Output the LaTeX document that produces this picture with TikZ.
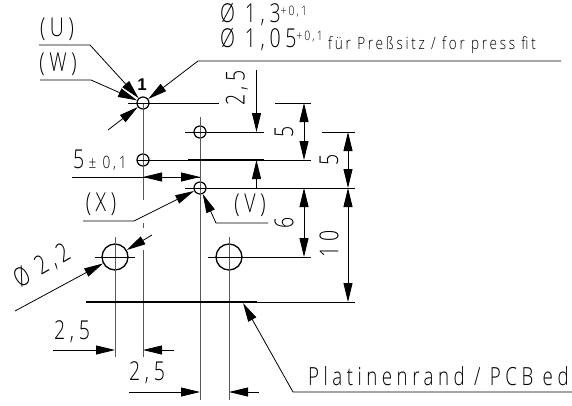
\documentclass[tikz,border=0pt]{standalone}
\usepackage{fontspec}
\usetikzlibrary{calc,positioning,arrows.meta}
\newfontfamily\isofont[FakeStretch=0.75,LetterSpace=18]{Open Sans Light}
\newfontfamily\isolow[FakeStretch=0.8,LetterSpace=16]{Open Sans Light}
\newfontfamily\onefont{Liberation Sans}
\newcommand{\isobig}{\isofont\fontsize{26}{26}\selectfont}
\newcommand{\isoedge}{\isofont\fontsize{25}{25}\selectfont}
\newcommand{\isomid}{\isolow\fontsize{17}{17}\selectfont}
\newcommand{\isosmall}{\isolow\fontsize{13}{13}\selectfont}
\tikzset{
  hole/.style={circle,draw,line width=1.2pt,inner sep=0pt,minimum size=12pt},
  bighole/.style={circle,draw,line width=1.3pt,inner sep=0pt,minimum size=26pt},
  thin line/.style={line width=0.8pt},
  axis/.style={line width=1pt,black!65},
  thick line/.style={line width=1.7pt},
  tip/.style={line width=0.8pt,-{Triangle[length=19pt,width=9pt]}},
  tips/.style={line width=0.8pt,{Triangle[length=19pt,width=9pt]}-{Triangle[length=19pt,width=9pt]}},
  txt/.style={inner sep=0pt,font=\isobig}
}
\begin{document}
\begin{tikzpicture}[x=1pt,y=-1pt]
    \useasboundingbox (0,0) rectangle (572,405);

    % holes

    \node[hole] (h1) at (143,103) {};
    \node[hole] (h2) at (200,132) {};
    \node[hole] (h3) at (143,160) {};
    \node[hole] (h4) at (200,188) {};
    \node[bighole] (h5) at (115,257) {};
    \node[bighole] (h6) at (229,257) {};

    % free ends

    \coordinate (a1) at (143,200);
    \coordinate (a2) at (143,250);
    \coordinate (a3) at (143,357);
    \coordinate (a4) at (143,223);
    \coordinate (a5) at (143,228);
    \coordinate (b1) at (200,117);
    \coordinate (b2) at (200,400);
    \coordinate (c1) at (229,237);
    \coordinate (c2) at (229,400);
    \coordinate (d1) at (115,237);
    \coordinate (d2) at (115,357);

    \coordinate (e1) at (128,103);
    \coordinate (e2) at (219,103);
    \coordinate (e3) at (275,103);
    \coordinate (e4) at (311,103);
    \coordinate (f1) at (185,132);
    \coordinate (f2) at (264,132);
    \coordinate (g1) at (137,160);
    \coordinate (g2) at (311,160);
    \coordinate (g3) at (188,160);
    \coordinate (g4) at (264,160);
    \coordinate (k1) at (185,188);
    \coordinate (k2) at (355,188);
    \coordinate (m1) at (95,257);
    \coordinate (m2) at (135,257);
    \coordinate (m3) at (208,257);
    \coordinate (m4) at (311,257);
    \coordinate (n1) at (86,302);
    \coordinate (n2) at (257,302);
    \coordinate (n3) at (355,302);
    \coordinate (q1) at (322,132);
    \coordinate (q2) at (355,132);

    \coordinate (u1) at (39,45);
    \coordinate (u2) at (90,45);
    \coordinate (w1) at (40,80);
    \coordinate (w2) at (91,80);
    \coordinate (z1) at (108,130);
    \coordinate (p1) at (561,61);
    \coordinate (p2) at (198,61);
    \coordinate (x1) at (83,221);
    \coordinate (x2) at (134,221);
    \coordinate (v1) at (268,223);
    \coordinate (v2) at (216,223);
    \coordinate (r1) at (15,311);
    \coordinate (r2) at (152,235);
    \coordinate (s1) at (572,392);
    \coordinate (s2) at (293,392);
    \coordinate (s3) at (243,303);

    \coordinate (t1) at (256.5,70);
    \coordinate (t2) at (256.5,132);
    \coordinate (t3) at (256.5,188);
    \coordinate (t4) at (256.5,160);
    \coordinate (y1) at (304,103);
    \coordinate (y2) at (304,160);
    \coordinate (y3) at (304,188);
    \coordinate (y4) at (304,257);
    \coordinate (o1) at (348,132);
    \coordinate (o2) at (348,188);
    \coordinate (o3) at (348,302);

    \coordinate (l1) at (72,177);
    \coordinate (l2) at (143,177);
    \coordinate (l3) at (200,177);
    \coordinate (i1) at (53,350);
    \coordinate (i2) at (115,350);
    \coordinate (i3) at (143,350);
    \coordinate (i4) at (174,350);
    \coordinate (j1) at (129,392);
    \coordinate (j2) at (200,392);
    \coordinate (j3) at (229,392);
    \coordinate (j4) at (259,392);

    % lines

    \draw[axis] (h1.center) to (a1);
    \draw[axis] (a4) to (a5);
    \draw[axis] (a2) to (a3);
    \draw[axis] (b1) to (b2);
    \draw[axis] (c1) to (c2);
    \draw[axis] (d1) to (d2);

    \draw[thin line] (e1) to (e2);
    \draw[thin line] (e3) to (e4);
    \draw[thin line] (f1) to (f2);
    \draw[thin line] (g1) to (g2);
    \draw[thick line] (g3) to (g4);
    \draw[thin line] (k1) to (k2);
    \draw[thin line] (m1) to (m2);
    \draw[thin line] (m3) to (m4);
    \draw[thick line] (n1) to (n2);
    \draw[thin line] (n2) to (n3);
    \draw[thin line] (q1) to (q2);

    % leaders

    \draw[tip] (u1) -- (u2) -- (h1);
    \draw[tip] (w1) -- (w2) -- (h1);
    \draw[tip] (z1) to (h1);
    \draw[tip] (p1) -- (p2) -- (h1);
    \draw[tip] (x1) -- (x2) -- (h4);
    \draw[tip] (v1) -- (v2) -- (h4);
    \draw[tip] (r1) to (h5);
    \draw[tip] (r2) to (h5);
    \draw[tip] (s1) -- (s2) -- (s3);

    % dimensions

    \draw[tip] (t1) to (t2);
    \draw[tip] (t3) to (t4);
    \draw[tips] (y1) to (y2);
    \draw[tips] (y3) to (y4);
    \draw[tips] (o1) to (o2);
    \draw[tips] (o2) to (o3);
    \draw[tip] (l1) to (l3);
    \draw[tip] (l3) to (l2);
    \draw[tip] (i1) to (i2);
    \draw[tip] (i4) to (i3);
    \draw[tip] (j1) to (j2);
    \draw[tip] (j4) to (j3);

    % labels

    \node[txt] (tu) at (57,29) {(U)};
    \node[txt] (tw) at (58,64) {(W)};
    \node[inner sep=0pt,font=\onefont\bfseries\fontsize{17}{17}\selectfont] (t1st) at (142,85) {1};
    \node[txt,anchor=west] (td1) at (220,15) {Ø 1,3\raisebox{7pt}{\isosmall +0,1}};
    \node[txt,anchor=west] (td2) at (220,40) {Ø 1,05\raisebox{7pt}{\isosmall +0,1}};
    \node[inner sep=0pt,anchor=west,font=\isomid] (tfit) at (328,45) {für Preßsitz / for press fit};
    \node[txt,rotate=90] (t25a) at (237,88) {2,5};
    \node[txt,anchor=west] (t51) at (73,160) {5\,{\isomid ± 0,1}};
    \node[txt] (tx) at (101,204) {(X)};
    \node[txt] (tv) at (250,205) {(V)};
    \node[txt,rotate=90] (t5a) at (284,132) {5};
    \node[txt,rotate=90] (t5b) at (329,160) {5};
    \node[txt,rotate=90] (t6) at (284,223) {6};
    \node[txt,rotate=90] (t10) at (329,244) {10};
    \node[txt,rotate=30] (tphi) at (42,266) {Ø 2,2};
    \node[txt] (t25b) at (72,332) {2,5};
    \node[txt] (t25c) at (147,373) {2,5};
    \node[inner sep=0pt,anchor=west,font=\isoedge] (tpcb) at (308,376) {Platinenrand / PCB ed};
\end{tikzpicture}
\end{document}
